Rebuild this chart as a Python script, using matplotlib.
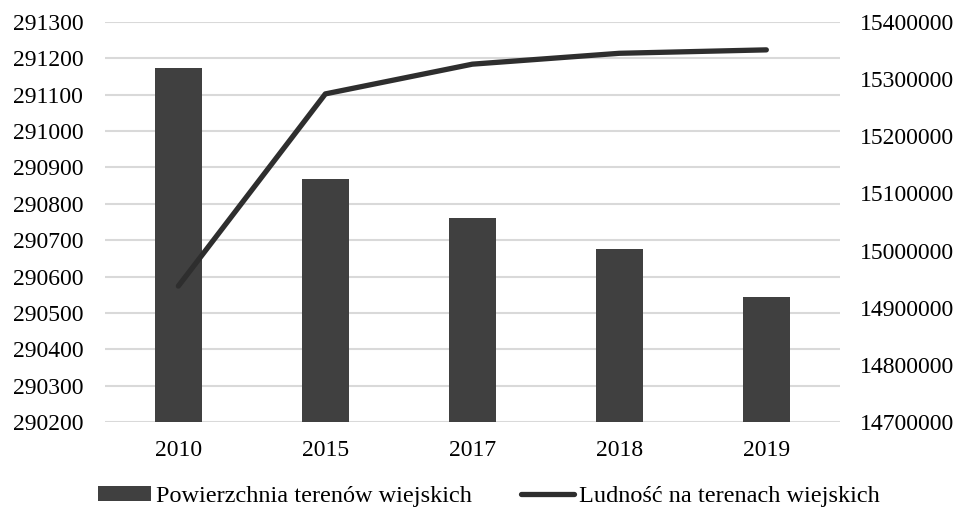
"""Rural area vs rural population, Poland (bar + line, twin axes)."""

import matplotlib

matplotlib.use("Agg")
import matplotlib.pyplot as plt
import numpy as np

# ---------------------------------------------------------------------------
# Data
# ---------------------------------------------------------------------------
YEARS = ["2010", "2015", "2017", "2018", "2019"]
AREA = [291173, 290868, 290761, 290676, 290544]  # left axis, bars
POPULATION = [14938000, 15274000, 15326000, 15345000, 15351000]  # right axis, line

AREA_LABEL = "Powierzchnia terenów wiejskich"
POP_LABEL = "Ludność na terenach wiejskich"

LEFT_TICKS = list(range(290200, 291301, 100))
RIGHT_TICKS = list(range(14700000, 15400001, 100000))

# ---------------------------------------------------------------------------
# Style
# ---------------------------------------------------------------------------
BAR_COLOR = "#404040"
LINE_COLOR = "#2e2e2e"
GRID = "#d9d9d9"
FS = 17

plt.rcParams["font.family"] = ["Liberation Serif", "DejaVu Serif"]

fig = plt.figure(figsize=(9.62, 5.08), dpi=100, facecolor="white")
ax = fig.add_axes([0.109, 0.169, 0.764, 0.788])
ax2 = ax.twinx()

x = np.arange(len(YEARS))
bars = ax.bar(x, AREA, width=0.32, color=BAR_COLOR, zorder=2, label=AREA_LABEL)
ax.set_ylim(LEFT_TICKS[0], LEFT_TICKS[-1])
ax.set_yticks(LEFT_TICKS)
ax.set_xlim(-0.5, len(YEARS) - 0.5)
ax.set_xticks(x)
ax.set_xticklabels(YEARS)
ax.yaxis.grid(True, color=GRID, linewidth=1.5)
ax.set_axisbelow(True)

(line,) = ax2.plot(x, POPULATION, color=LINE_COLOR, linewidth=3.8,
                   solid_capstyle="round", zorder=3, label=POP_LABEL)
ax2.set_ylim(RIGHT_TICKS[0], RIGHT_TICKS[-1])
ax2.set_yticks(RIGHT_TICKS)

for a in (ax, ax2):
    for s in a.spines.values():
        s.set_visible(False)
    a.tick_params(length=0, labelsize=FS, colors="black")
    a.ticklabel_format(axis="y", style="plain", useOffset=False)
ax.tick_params(axis="y", pad=15.5)
ax.tick_params(axis="x", pad=13)
ax2.tick_params(axis="y", pad=14.4)

fig.legend(
    [bars, line],
    [AREA_LABEL, POP_LABEL],
    loc="center",
    bbox_to_anchor=(0.508, 0.022),
    ncol=2,
    frameon=False,
    fontsize=17.5,
    handlelength=2.2,
    handleheight=0.55,
    handletextpad=0.2,
    columnspacing=2.0,
    borderaxespad=0,
)

fig.savefig("out.png", dpi=100, facecolor="white")
